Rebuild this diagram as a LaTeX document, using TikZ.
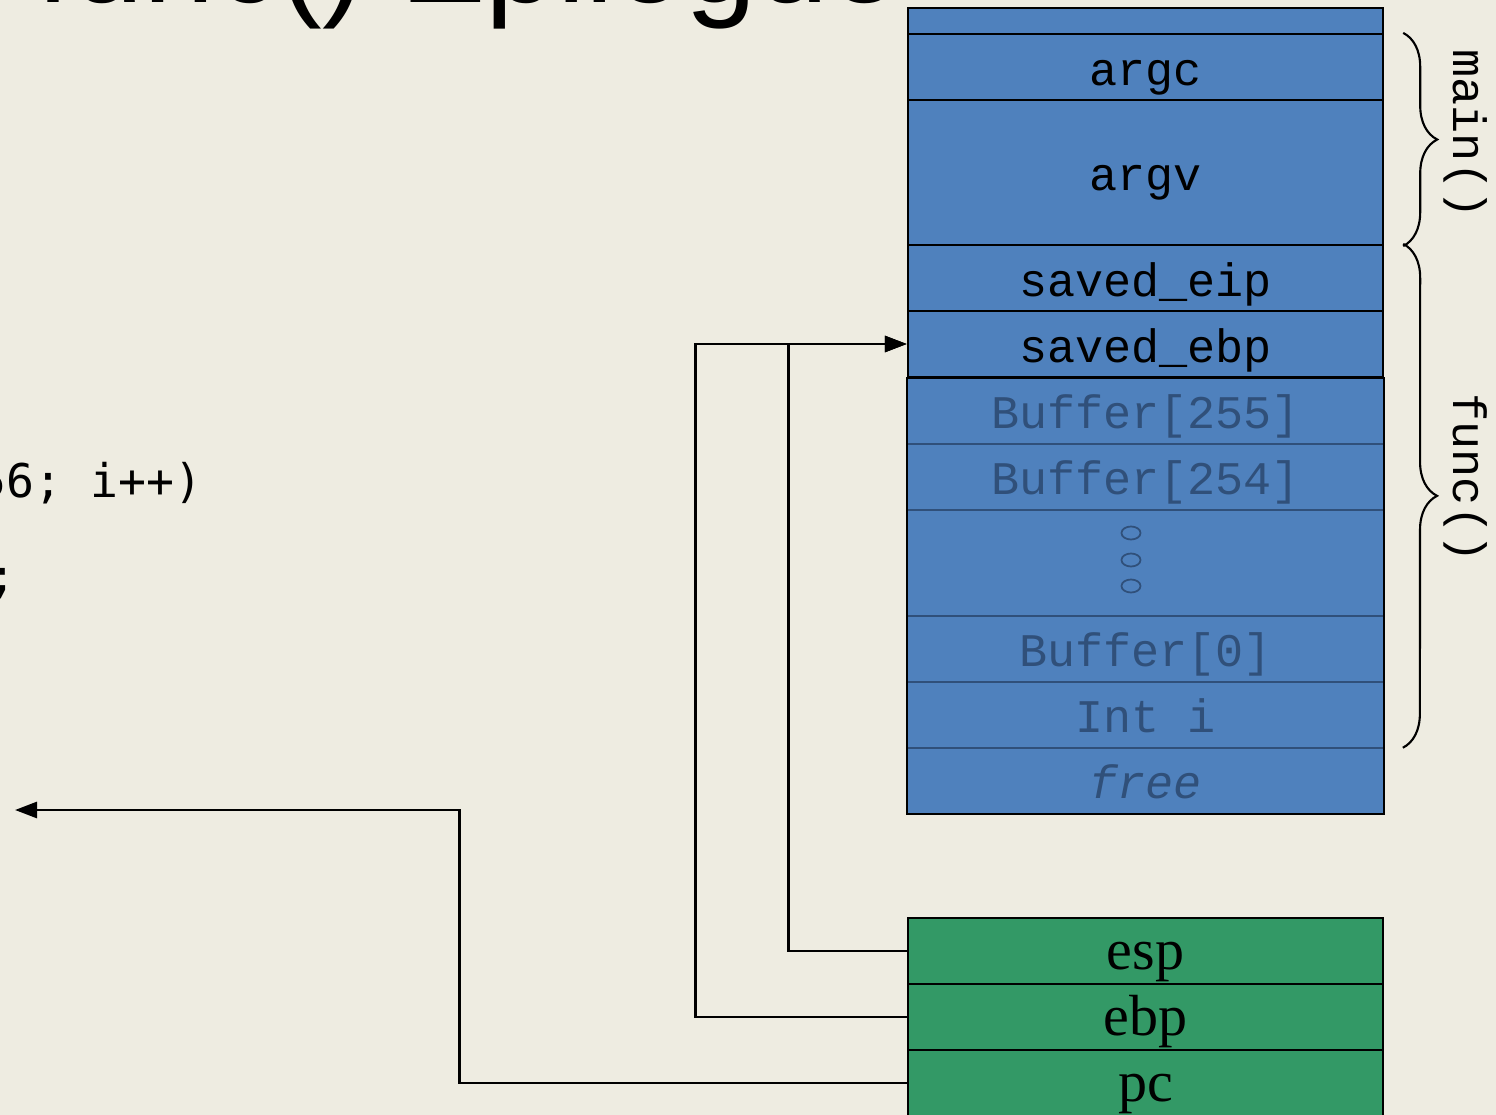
\documentclass[tikz,border=0pt]{standalone}
\usepackage{fontspec}
\setmainfont{Liberation Serif}
\setmonofont{Liberation Mono}
\newfontfamily\titlefont{Liberation Sans}
\newfontfamily\codefont{DejaVu Sans Mono}
\usetikzlibrary{arrows.meta,decorations.pathreplacing}
\definecolor{slidebg}{HTML}{EEECE1}
\definecolor{stackblue}{HTML}{4F81BD}
\definecolor{reggreen}{HTML}{339966}
\definecolor{fadedink}{HTML}{30507A}
\tikzset{
	cell/.style={fill=stackblue,minimum width=4.75cm,inner sep=0pt,text height=1.05em,text depth=0pt,font=\ttfamily\fontsize{13.3}{16}\selectfont},
	usedcell/.style={cell,draw=black,line width=0.6pt},
	fadedcell/.style={cell,text=fadedink},
	regcell/.style={fill=reggreen,draw=black,line width=0.6pt,minimum width=4.75cm,minimum height=0.66cm,inner sep=0pt,text height=1.05em,text depth=0pt,font=\fontsize{16.5}{18}\selectfont},
	wire/.style={line width=0.8pt,-{Triangle[length=2.2mm,width=1.6mm]}},
	sepline/.style={fadedink,line width=0.5pt},
	framebrace/.style={decorate,decoration={brace,amplitude=0.34cm},line width=0.6pt},
	codeline/.style={anchor=base west,inner sep=0pt,font=\codefont\fontsize{13.2}{16}\selectfont},
}
\begin{document}
\begin{tikzpicture}[x=0.01cm,y=-0.01cm]
	\useasboundingbox (0,0) rectangle (1496,1115);
	\clip (0,0) rectangle (1496,1115);
	\fill[slidebg] (0,0) rectangle (1496,1115);
	% title and code, cut by the slide edge
	\node[anchor=base west,inner sep=0pt,font=\titlefont\fontsize{36.5}{42}\selectfont] (title) at (36,2) {func() Epilogue};
	\node[codeline] (loopline) at (-22,497) {56; i++)};
	\node[codeline] (bodyline) at (-12,592) {;};
	% stack
	\node[usedcell,text height=0pt,minimum height=0.26cm] (topcell) at (1145.5,21) {};
	\node[usedcell,minimum height=0.66cm] (argc) at (1145.5,67) {argc};
	\node[usedcell,minimum height=1.45cm] (argv) at (1145.5,172.5) {argv};
	\node[usedcell,minimum height=0.66cm] (seip) at (1145.5,278) {saved\_eip};
	\node[usedcell,minimum height=0.66cm] (sebp) at (1145.5,344) {saved\_ebp};
	\node[fadedcell,minimum height=0.66cm] (b255) at (1145.5,410) {Buffer[255]};
	\node[fadedcell,minimum height=0.66cm] (b254) at (1145.5,476) {Buffer[254]};
	\node[fadedcell,minimum height=1.06cm] (dots) at (1145.5,562) {};
	\node[fadedcell,minimum height=0.66cm] (b0) at (1145.5,648) {Buffer[0]};
	\node[fadedcell,minimum height=0.66cm] (inti) at (1145.5,714) {Int i};
	\node[fadedcell,minimum height=0.66cm] (free) at (1145.5,780) {\textit{free}};
	\draw[sepline] (b255.south west) -- (b255.south east);
	\draw[sepline] (b254.south west) -- (b254.south east);
	\draw[sepline] (dots.south west) -- (dots.south east);
	\draw[sepline] (b0.south west) -- (b0.south east);
	\draw[sepline] (inti.south west) -- (inti.south east);
	\draw[fadedink,line width=0.5pt] (dots.center) ++(-14.5,-29) ellipse [x radius=0.095cm,y radius=0.065cm];
	\draw[fadedink,line width=0.5pt] (dots.center) ++(-14.5,-2) ellipse [x radius=0.095cm,y radius=0.065cm];
	\draw[fadedink,line width=0.5pt] (dots.center) ++(-14.5,24) ellipse [x radius=0.095cm,y radius=0.065cm];
	\draw[line width=0.6pt] (sebp.south west) rectangle (free.south east);
	% frames
	\draw[framebrace] ([xshift=0.19cm]argc.north east) -- ([xshift=0.19cm]argv.south east);
	\draw[framebrace] ([xshift=0.19cm]seip.north east) -- ([xshift=0.19cm]inti.south east);
	\node[rotate=-90,font=\ttfamily\fontsize{13.3}{16}\selectfont] (mainlbl) at (1466,134) {main()};
	\node[rotate=-90,font=\ttfamily\fontsize{13.3}{16}\selectfont] (funclbl) at (1466,478) {func()};
	% registers
	\node[regcell] (esp) at (1145.5,951) {esp};
	\node[regcell] (ebp) at (1145.5,1017) {ebp};
	\node[regcell] (pc) at (1145.5,1083) {pc};
	\coordinate (retaddr) at (15,810);
	\draw[wire] (esp.west) -- ++(-118,0) |- (sebp.west);
	\draw[wire] (ebp.west) -- ++(-211,0) |- (sebp.west);
	\draw[wire] (pc.west) -- ++(-447,0) |- (retaddr);
\end{tikzpicture}
\end{document}
